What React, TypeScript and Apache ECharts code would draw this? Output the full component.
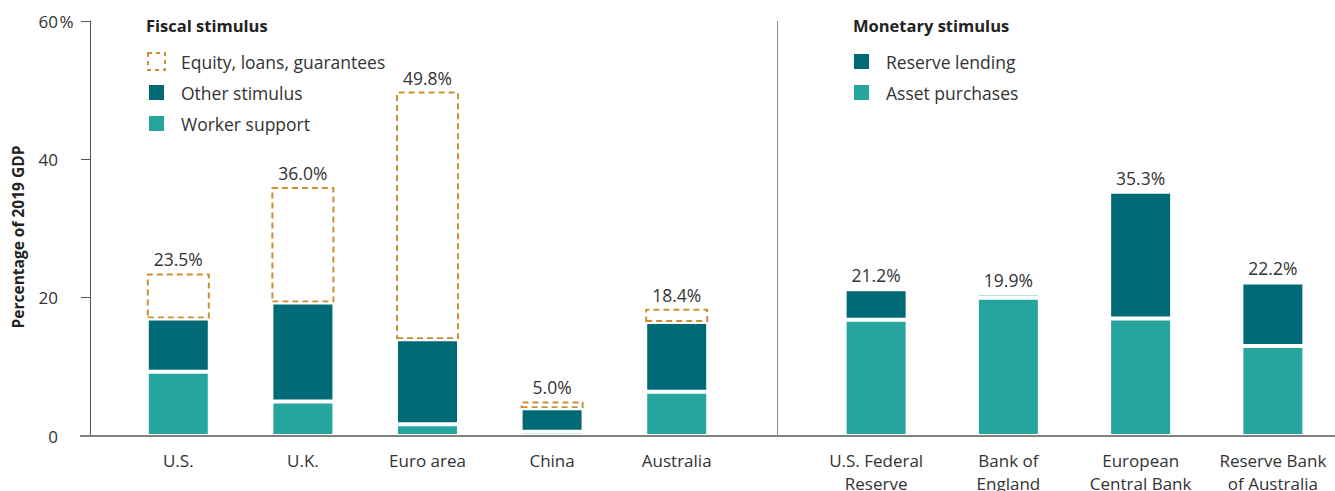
import React, { useEffect, useRef } from "react";
import * as echarts from "echarts";

const fiscalCategories = ["U.S.", "U.K.", "Euro area", "China", "Australia"];
const workerSupport = [9.3, 5.0, 1.7, 0.6, 6.4];
const otherStimulus = [7.7, 14.3, 12.3, 3.4, 10.1];
const fiscalTotals = [23.5, 36.0, 49.8, 5.0, 18.4];

const monetaryCategories = [
  "U.S. Federal\nReserve",
  "Bank of\nEngland",
  "European\nCentral Bank",
  "Reserve Bank\nof Australia",
];
const assetPurchases = [16.8, 20.0, 17.0, 13.0];
const reserveLending = [4.4, 0.6, 18.3, 9.2];
const monetaryTotals = [21.2, 19.9, 35.3, 22.2];

const yMin = 0;
const yMax = 60;
const yInterval = 20;

const DARK = "#006a77";
const LIGHT = "#26a49e";
const ORANGE = "#cc8f33";
const TEXT = "#333333";
const SANS = "'Open Sans', 'Noto Sans', sans-serif";

const equity = fiscalTotals.map(
  (t, i) => Math.round((t - workerSupport[i] - otherStimulus[i]) * 10) / 10
);

export default function App() {
  const ref = useRef<HTMLDivElement>(null);
  useEffect(() => {
    if (!ref.current) return;
    const chart = echarts.init(ref.current, null, { renderer: "svg" });
    const solidBar = (color: string) => ({
      color,
      borderColor: "#ffffff",
      borderWidth: 2,
    });
    const labelStyle = {
      show: true,
      position: "top",
      distance: 5,
      color: TEXT,
      fontSize: 17.5,
      fontFamily: SANS,
    };
    const legendText = {
      fontSize: 17.5,
      color: TEXT,
      fontFamily: SANS,
      lineHeight: 17,
      padding: [0, 0, 0, 11],
    };
    const titleText = { fontSize: 16.5, fontWeight: "bold", color: "#222", fontFamily: SANS };
    const xLabel = {
      color: TEXT,
      fontSize: 17,
      margin: 13,
      lineHeight: 23,
      interval: 0,
      fontFamily: SANS,
    };
    chart.setOption({
      animation: false,
      textStyle: { fontFamily: SANS },
      title: [
        { text: "Fiscal stimulus", left: 146, top: 17, padding: 0, textStyle: titleText },
        { text: "Monetary stimulus", left: 853, top: 17, padding: 0, textStyle: titleText },
      ],
      legend: [
        {
          orient: "vertical",
          left: 147,
          top: 52,
          padding: 0,
          itemWidth: 17,
          itemHeight: 17,
          itemGap: 12,
          icon: "rect",
          textStyle: legendText,
          selectedMode: false,
          data: [
            {
              name: "Equity, loans, guarantees",
              itemStyle: {
                color: "rgba(255,255,255,0)",
                borderColor: ORANGE,
                borderWidth: 2,
                borderType: [4, 4],
              },
            },
            { name: "Other stimulus" },
            { name: "Worker support" },
          ],
        },
        {
          orient: "vertical",
          left: 852,
          top: 52,
          padding: 0,
          itemWidth: 17,
          itemHeight: 17,
          itemGap: 12,
          icon: "rect",
          textStyle: legendText,
          selectedMode: false,
          data: [{ name: "Reserve lending" }, { name: "Asset purchases" }],
        },
      ],
      grid: [
        { left: 116, width: 623, top: 21, bottom: 55, outerBoundsMode: "none", containLabel: false },
        { left: 810, width: 529, top: 21, bottom: 55, outerBoundsMode: "none", containLabel: false },
      ],
      xAxis: [
        {
          type: "category",
          gridIndex: 0,
          data: fiscalCategories,
          axisLine: { show: false },
          axisTick: { show: false },
          axisLabel: xLabel,
        },
        {
          type: "category",
          gridIndex: 1,
          data: monetaryCategories,
          axisLine: { show: false },
          axisTick: { show: false },
          axisLabel: xLabel,
        },
      ],
      yAxis: [
        {
          type: "value",
          gridIndex: 0,
          min: yMin,
          max: yMax,
          interval: yInterval,
          offset: 26,
          name: "Percentage of 2019 GDP",
          nameLocation: "middle",
          nameRotate: 90,
          nameGap: 64,
          nameTextStyle: {
            fontSize: 15.5,
            fontWeight: "bold",
            color: "#222",
            fontFamily: SANS,
            padding: [0, 17, 0, 0],
          },
          axisLine: { show: true, lineStyle: { color: "#555", width: 1 } },
          axisTick: { show: true, length: 9, lineStyle: { color: "#555" } },
          splitLine: { show: false },
          axisLabel: {
            margin: 15,
            formatter: (v: number) => (v === yMax ? `{n|${v}}{p|%}` : `{n|${v}}{p| }`),
            rich: {
              n: { fontSize: 17, color: TEXT, fontFamily: SANS },
              p: { fontSize: 17, color: TEXT, fontFamily: SANS, width: 17, align: "left" },
            },
          },
        },
        {
          type: "value",
          gridIndex: 1,
          min: yMin,
          max: yMax,
          interval: yInterval,
          show: false,
          splitLine: { show: false },
        },
      ],
      series: [
        {
          name: "Worker support",
          type: "bar",
          xAxisIndex: 0,
          yAxisIndex: 0,
          stack: "fiscal",
          barWidth: 63,
          z: 3,
          data: workerSupport,
          itemStyle: solidBar(LIGHT),
        },
        {
          name: "Other stimulus",
          type: "bar",
          xAxisIndex: 0,
          yAxisIndex: 0,
          stack: "fiscal",
          barWidth: 63,
          z: 3,
          data: otherStimulus,
          itemStyle: solidBar(DARK),
        },
        {
          name: "Equity, loans, guarantees",
          type: "bar",
          xAxisIndex: 0,
          yAxisIndex: 0,
          stack: "fiscal",
          barWidth: 63,
          z: 2,
          data: equity,
          itemStyle: {
            color: "rgba(255,255,255,0)",
            borderColor: ORANGE,
            borderWidth: 2,
            borderType: [6, 4],
          },
          label: {
            ...labelStyle,
            formatter: (p: any) => `${fiscalTotals[p.dataIndex].toFixed(1)}%`,
          },
        },
        {
          name: "Asset purchases",
          type: "bar",
          xAxisIndex: 1,
          yAxisIndex: 1,
          stack: "monetary",
          barWidth: 63,
          data: assetPurchases,
          itemStyle: solidBar(LIGHT),
        },
        {
          name: "Reserve lending",
          type: "bar",
          xAxisIndex: 1,
          yAxisIndex: 1,
          stack: "monetary",
          barWidth: 63,
          data: reserveLending,
          itemStyle: solidBar(DARK),
          label: {
            ...labelStyle,
            formatter: (p: any) => `${monetaryTotals[p.dataIndex].toFixed(1)}%`,
          },
        },
      ],
      graphic: [
        {
          type: "line",
          z: 100,
          shape: { x1: 80, y1: 436, x2: 1335, y2: 436 },
          style: { stroke: "#808080", lineWidth: 2 },
        },
        {
          type: "line",
          z: 100,
          shape: { x1: 777.5, y1: 21, x2: 777.5, y2: 436 },
          style: { stroke: "#8a8a8a", lineWidth: 1 },
        },
      ],
    });
    return () => chart.dispose();
  }, []);
  return <div ref={ref} style={{ width: 1335, height: 491, position: "absolute", left: 0, top: 0 }} />;
}
